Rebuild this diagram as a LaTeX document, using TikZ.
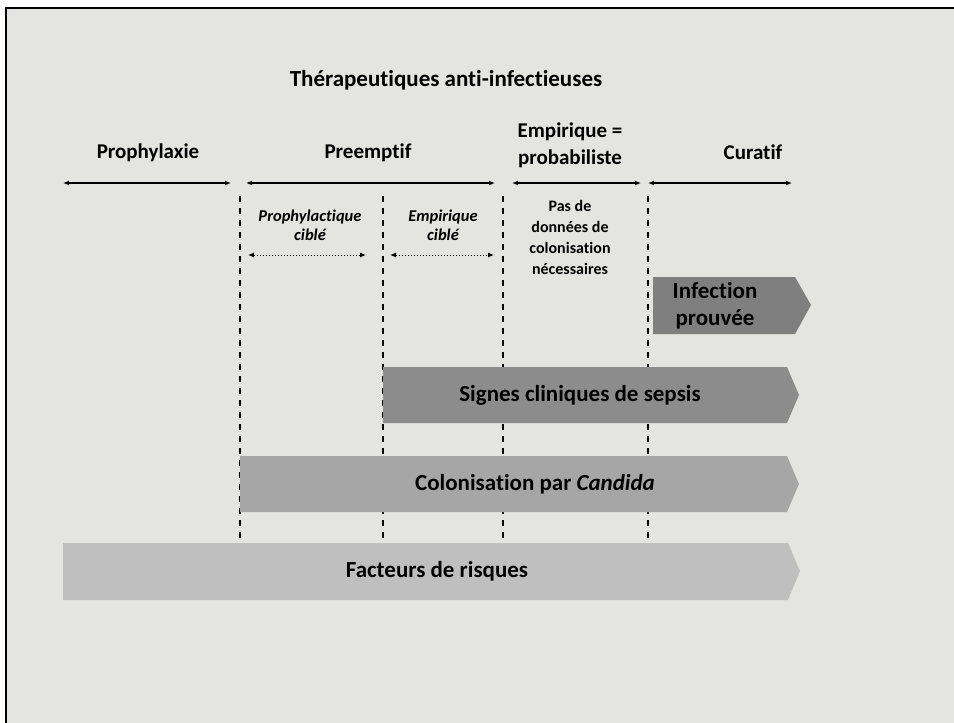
\documentclass[tikz,border=0pt]{standalone}
\usepackage{fontspec}
\setmainfont{Carlito}[Ligatures=NoCommon]
\usetikzlibrary{arrows.meta}
\definecolor{bgc}{RGB}{228,228,225}
\definecolor{c1}{RGB}{127,127,127}
\definecolor{c2}{RGB}{140,140,140}
\definecolor{c3}{RGB}{166,166,166}
\definecolor{c4}{RGB}{191,191,191}
\tikzset{
  lbl/.style={font=\fontsize{21}{27}\selectfont\bfseries, align=center, inner sep=0pt},
  ttl/.style={font=\fontsize{23}{27}\selectfont\bfseries, align=center, inner sep=0pt},
  small/.style={font=\fontsize{16}{21}\selectfont\bfseries, align=center, inner sep=0pt},
  smallit/.style={font=\fontsize{16.5}{19}\selectfont\bfseries\itshape, align=center, inner sep=0pt},
  span/.style={line width=1.2pt, {Latex[length=6pt,width=5pt]}-{Latex[length=6pt,width=5pt]}},
  dspan/.style={line width=1pt, dotted, {Latex[length=6pt,width=5pt]}-{Latex[length=6pt,width=5pt]}},
  sep/.style={line width=2.4pt, dash pattern=on 6pt off 6pt},
  bartext/.style={font=\fontsize{23}{27}\selectfont\bfseries, align=center, inner sep=0pt},
}
\begin{document}
\begin{tikzpicture}[x=1pt,y=-1pt]
\useasboundingbox (0,0) rectangle (954,723);
\fill[white] (0,0) rectangle (954,723);
\fill[bgc] (6,8) rectangle (954,723);
\draw[line width=2.2pt] (6,723) -- (6,8) -- (954,8);

% title and headings
\node[ttl] (title) at (446,80) {Thérapeutiques anti-infectieuses};
\node[lbl] (h1) at (148,153) {Prophylaxie};
\node[lbl] (h2) at (368,153) {Preemptif};
\node[lbl] (h3) at (570,145) {Empirique =\\probabiliste};
\node[lbl] (h4) at (753,152) {Curatif};

% span arrows
\coordinate (a1l) at (63,183); \coordinate (a1r) at (231,183);
\coordinate (a2l) at (246,183); \coordinate (a2r) at (495,183);
\coordinate (a3l) at (512,183); \coordinate (a3r) at (641,183);
\coordinate (a4l) at (648,183); \coordinate (a4r) at (792,183);
\draw[span] (a1l) -- (a1r);
\draw[span] (a2l) -- (a2r);
\draw[span] (a3l) -- (a3r);
\draw[span] (a4l) -- (a4r);

% dashed separators
\coordinate (d1t) at (240,196); \coordinate (d1b) at (240,543);
\coordinate (d2t) at (383,196); \coordinate (d2b) at (383,543);
\coordinate (d3t) at (503,196); \coordinate (d3b) at (503,543);
\coordinate (d4t) at (648,196); \coordinate (d4b) at (648,543);
\draw[sep] (d1t) -- (d1b);
\draw[sep] (d2t) -- (d2b);
\draw[sep] (d3t) -- (d3b);
\draw[sep] (d4t) -- (d4b);

% sub labels
\node[smallit] (s1) at (310,225) {Prophylactique\\ciblé};
\node[smallit] (s2) at (443,225) {Empirique\\ciblé};
\node[small] (s3) at (570,237) {Pas de\\données de\\colonisation\\nécessaires};
\coordinate (b1l) at (248,255); \coordinate (b1r) at (366,255);
\coordinate (b2l) at (390,255); \coordinate (b2r) at (494,255);
\draw[dspan] (b1l) -- (b1r);
\draw[dspan] (b2l) -- (b2r);

% bars
\fill[c4] (63,543) -- (788,543) -- (800,571) -- (788,600) -- (63,600) -- cycle;
\node[bartext] (fr) at (437,571) {Facteurs de risques};
\fill[c3] (240,456) -- (787,456) -- (799,484) -- (787,512) -- (240,512) -- cycle;
\node[bartext] (col) at (535,484) {Colonisation par \textit{Candida}};
\fill[c2] (383,367) -- (787,367) -- (799,395) -- (787,423) -- (383,423) -- cycle;
\node[bartext] (sig) at (580,395) {Signes cliniques de sepsis};
\fill[c1] (653,277) -- (795,277) -- (811,305) -- (795,334) -- (653,334) -- cycle;
\node[bartext] (inf) at (715,306) {Infection\\prouvée};
\end{tikzpicture}
\end{document}
